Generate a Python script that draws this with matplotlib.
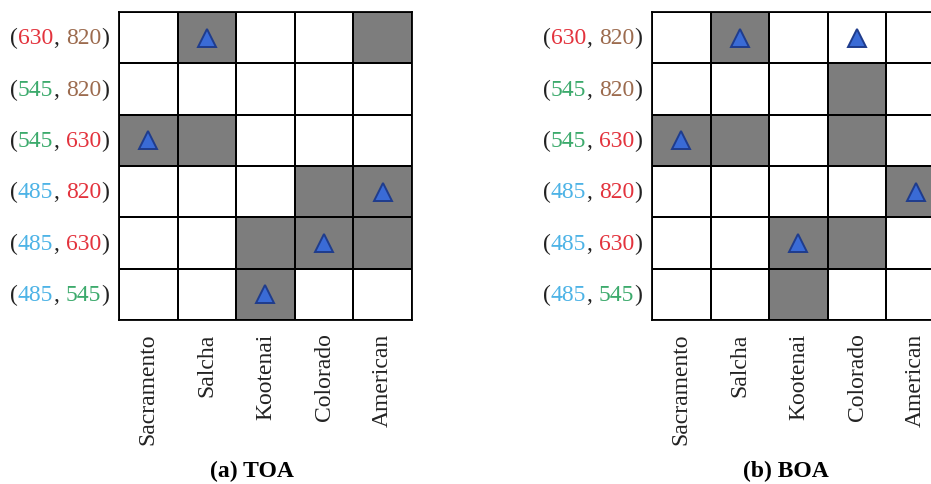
import numpy as np
import matplotlib.pyplot as plt
from matplotlib.colors import ListedColormap
from matplotlib.offsetbox import TextArea, HPacker, AnnotationBbox

plt.rcParams['font.family'] = ['Liberation Serif', 'DejaVu Serif']

rivers = ["Sacramento", "Salcha", "Kootenai", "Colorado", "American"]

# band pairs, top row first
band_pairs = [("630", "820"), ("545", "820"), ("545", "630"),
              ("485", "820"), ("485", "630"), ("485", "545")]
# colour of each number in the row labels
pair_colors = [("red", "brown"), ("green", "brown"), ("green", "red"),
               ("blue", "red"), ("blue", "red"), ("blue", "green")]
band_colors = {"blue": "#4db3e6", "green": "#3caa6c", "red": "#e3333d", "brown": "#9c6b4e"}

# 1 = shaded cell (rows x rivers)
toa_mask = np.array([
    [0, 1, 0, 0, 1],
    [0, 0, 0, 0, 0],
    [1, 1, 0, 0, 0],
    [0, 0, 0, 1, 1],
    [0, 0, 1, 1, 1],
    [0, 0, 1, 0, 0],
])
boa_mask = np.array([
    [0, 1, 0, 0, 0],
    [0, 0, 0, 1, 0],
    [1, 1, 0, 1, 0],
    [0, 0, 0, 0, 1],
    [0, 0, 1, 1, 0],
    [0, 0, 1, 0, 0],
])
# row index of the best band pair for each river
toa_best = [2, 0, 5, 4, 3]
boa_best = [2, 0, 4, 0, 3]

# title, mask, best rows, axes left edge, title x (figure fraction)
panels = [("(a) TOA", toa_mask, toa_best, 0.1278, 0.271),
          ("(b) BOA", boa_mask, boa_best, 0.7003, 0.844)]

fig = plt.figure(figsize=(9.31, 4.85), dpi=100)
cmap = ListedColormap(["white", "#7d7d7d"])
fs = 17
ink = "#222222"
lw = 1.3

for title, mask, best, left, tx in panels:
    ax = fig.add_axes([left, 0.338, 0.3147, 0.635])
    ax.pcolormesh(mask, cmap=cmap, vmin=0, vmax=1, edgecolors="black", linewidth=lw)
    ax.plot(np.arange(len(rivers)) + 0.5, np.array(best) + 0.5, linestyle="none",
            marker="^", markersize=13, markerfacecolor="#3a6bd6",
            markeredgecolor="#1f3c8c", markeredgewidth=1.4)
    ax.set_xlim(0, len(rivers))
    ax.set_ylim(len(band_pairs), 0)
    ax.set_xticks(np.arange(len(rivers)) + 0.5)
    ax.set_xticklabels(rivers, rotation=90, fontsize=fs, color=ink)
    ax.set_yticks([])
    ax.tick_params(axis="x", length=0, pad=9)
    for s in ax.spines.values():
        s.set_linewidth(lw)

    # multicoloured row labels
    for i, ((a, b), (ca, cb)) in enumerate(zip(band_pairs, pair_colors)):
        props = dict(fontsize=fs)
        first = HPacker(children=[
            TextArea("(", textprops=dict(color=ink, **props)),
            TextArea(a, textprops=dict(color=band_colors[ca], **props)),
            TextArea(",", textprops=dict(color=ink, **props)),
        ], sep=0, pad=0, align="baseline")
        second = HPacker(children=[
            TextArea(b, textprops=dict(color=band_colors[cb], **props)),
            TextArea(")", textprops=dict(color=ink, **props)),
        ], sep=0, pad=0, align="baseline")
        label = HPacker(children=[first, second], sep=5, pad=0, align="baseline")
        ab = AnnotationBbox(label, (0, i + 0.5), xycoords=("axes fraction", "data"),
                            xybox=(-7, 0), boxcoords="offset points",
                            box_alignment=(1, 0.5), frameon=False,
                            annotation_clip=False)
        ax.add_artist(ab)

    fig.text(tx, 0.027, title, ha="center", va="center",
             fontsize=fs, fontweight="bold", color="black")

fig.savefig("out.png", dpi=100)
